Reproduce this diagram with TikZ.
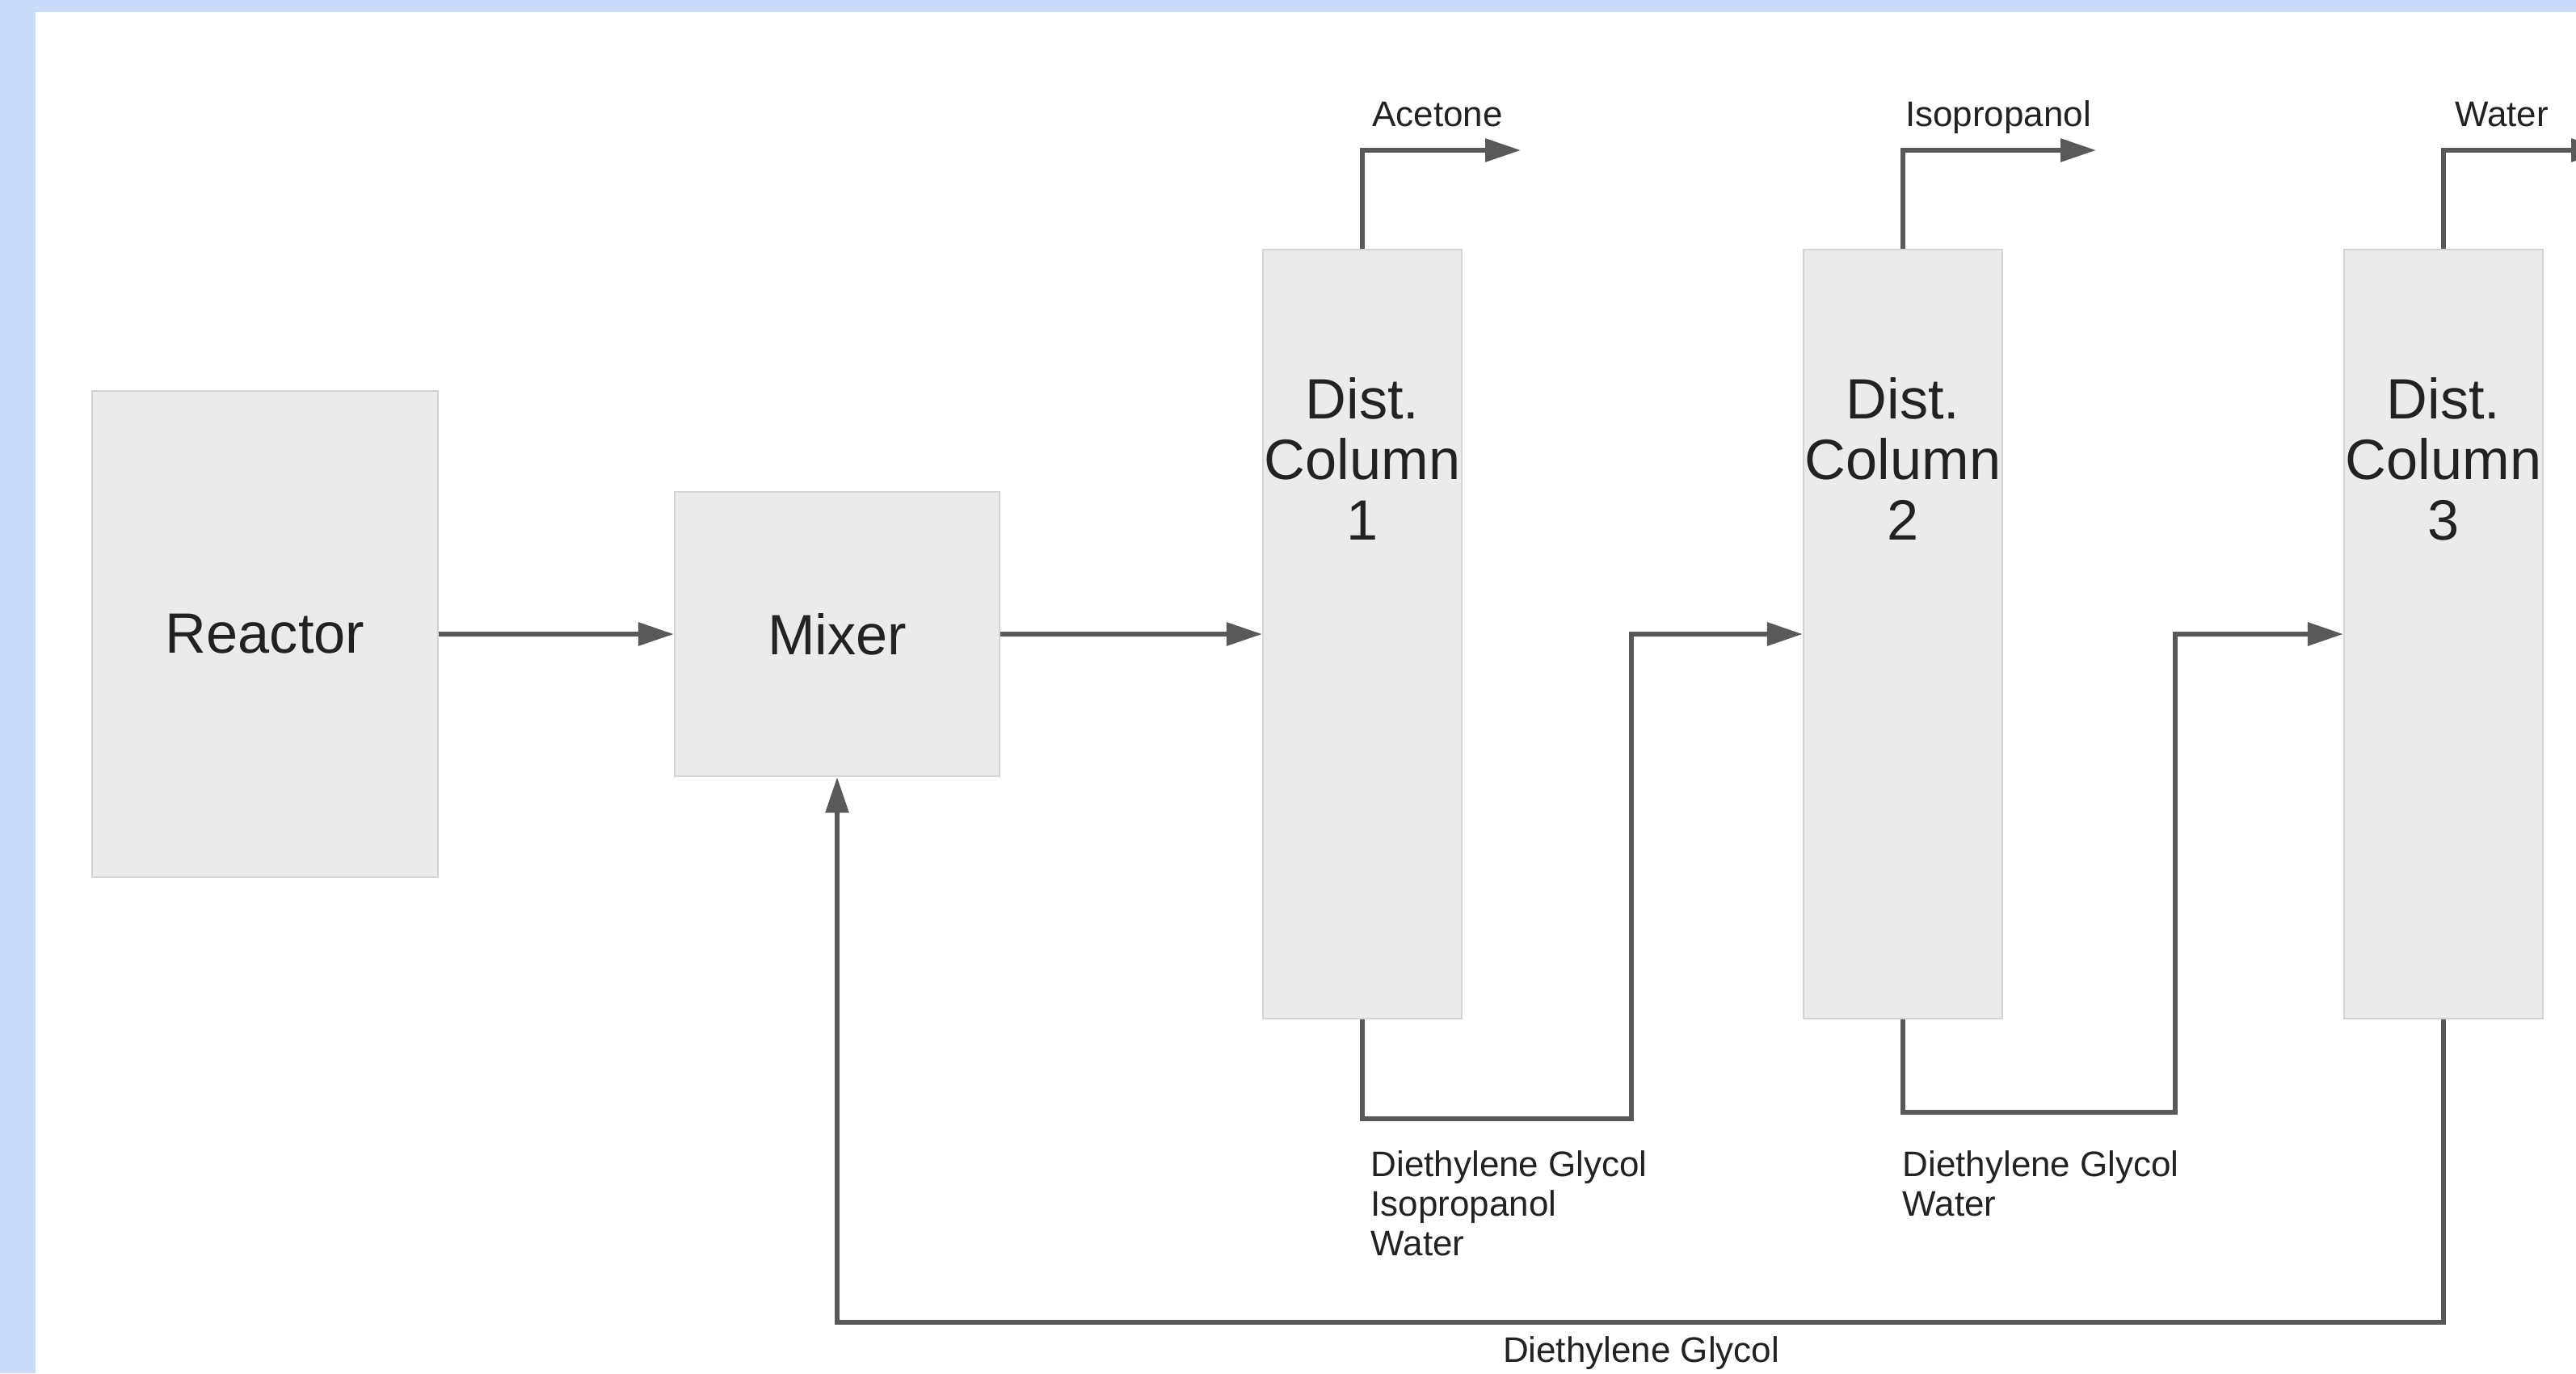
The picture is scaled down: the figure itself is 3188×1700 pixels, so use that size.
\documentclass[tikz,border=0pt]{standalone}
\usepackage{fontspec}
\setmainfont{Liberation Sans}
\usetikzlibrary{arrows.meta,positioning}
\definecolor{sky}{HTML}{C9DAF8}
\definecolor{shell}{HTML}{EBEBEB}
\definecolor{rim}{HTML}{D4D4D4}
\definecolor{pipe}{HTML}{595959}
\definecolor{ink}{HTML}{222222}
\tikzset{
  >={Triangle[length=4.4mm,width=2.8mm]},
  unit/.style={draw=rim,fill=shell,line width=0.6pt,inner sep=0pt,text=ink,
    font=\fontsize{20}{21.3}\selectfont,align=center},
  dcol/.style={unit,minimum width=24.6mm,minimum height=95.1mm},
  coltext/.style={inner sep=0pt,text=ink,font=\fontsize{20}{21.3}\selectfont,align=center},
  stream/.style={->,draw=pipe,line width=1.7pt},
  tag/.style={inner sep=0pt,text=ink,font=\fontsize{12.5}{13.9}\selectfont,align=left},
}
\begin{document}
\begin{tikzpicture}[x=0.01cm,y=-0.01cm]
  \useasboundingbox (0,0) rectangle (3188,1700);
  % page frame
  \fill[white] (0,0) rectangle (3188,1700);
  \fill[sky] (0,0) rectangle (3188,15);
  \fill[sky] (0,0) rectangle (44,1700);

  % units
  \node[unit,minimum width=42.7mm,minimum height=60.2mm] (reactor) at (328,785) {Reactor};
  \node[unit,minimum width=40.2mm,minimum height=35.2mm] (mixer) at (1036,785) {Mixer};
  \foreach \i/\x in {1/1686,2/2355,3/3024} {
    \node[dcol] (col\i) at (\x,785) {};
    \node[coltext] (name\i) at (\x,568) {Dist.\\Column\\\i};
  }

  % feed line
  \draw[stream] (reactor) -- (mixer);
  \draw[stream] (mixer) -- (col1);

  % overheads
  \coordinate (top1) at (1882,186);
  \coordinate (top2) at (2594,186);
  \coordinate (top3) at (3226,186);
  \foreach \i in {1,2,3} \draw[stream] (col\i.north) |- (top\i);
  \node[tag,anchor=base] (acetone) at (1779,157) {Acetone};
  \node[tag,anchor=base] (ipa) at (2473,157) {Isopropanol};
  \node[tag,anchor=base] (water) at (3096,157) {Water};

  % bottoms
  \coordinate (bot1) at (2019,1385);
  \coordinate (bot2) at (2692,1377);
  \coordinate (bot3) at (1036,1637);
  \draw[stream] (col1.south) |- (bot1) |- (col2.west);
  \draw[stream] (col2.south) |- (bot2) |- (col3.west);
  \draw[stream] (col3.south) |- (bot3) -- (mixer.south);
  \node[tag,anchor=north west] (mix1) at (1696,1424) {Diethylene Glycol\\Isopropanol\\Water};
  \node[tag,anchor=north west] (mix2) at (2354,1424) {Diethylene Glycol\\Water};
  \node[tag,anchor=north] (recycle) at (2031,1654) {Diethylene Glycol};
\end{tikzpicture}
\end{document}
